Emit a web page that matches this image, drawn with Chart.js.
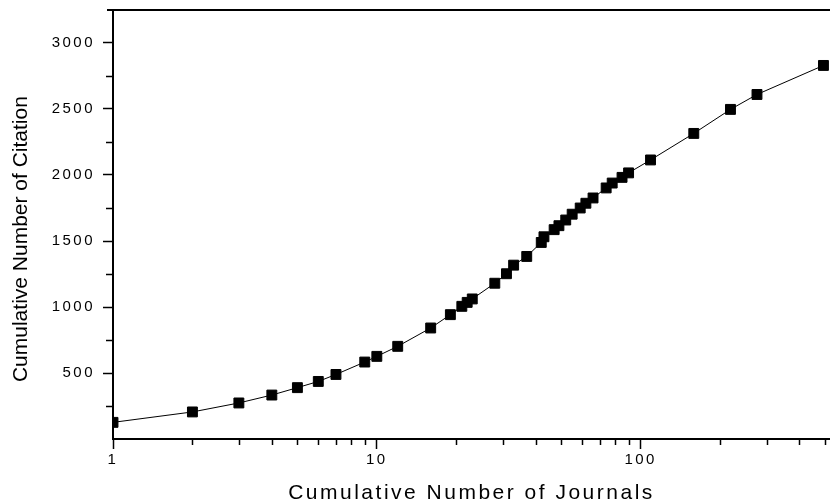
<!DOCTYPE html>
<html>
<head>
<meta charset="utf-8">
<title>Cumulative citations vs journals</title>
<script src="https://cdn.jsdelivr.net/npm/chart.js@4.4.1/dist/chart.umd.min.js"></script>
<style>
  html, body { margin: 0; padding: 0; background: #fff; }
  #wrap { width: 830px; height: 504px; }
</style>
</head>
<body>
<div id="wrap"><canvas id="chart"></canvas></div>
<script>
// values
const journals = [1, 2, 3, 4, 5, 6, 7, 9, 10, 12, 16, 19, 21, 22, 23, 28, 31, 33, 37, 42, 43, 47, 49, 52, 55, 59, 62, 66, 74, 78, 85, 90, 109, 159, 219, 276, 493];
const citations = [126, 205, 273, 333, 389, 436, 489, 583, 626, 702, 841, 942, 1005, 1035, 1061, 1180, 1252, 1317, 1383, 1489, 1532, 1586, 1616, 1659, 1703, 1750, 1786, 1826, 1902, 1939, 1982, 2016, 2114, 2315, 2497, 2610, 2830];

const xLabelTicks = [1, 10, 100];
const xMinorTicks = [2, 3, 4, 5, 6, 7, 8, 9, 20, 30, 40, 50, 60, 70, 80, 90, 200, 300, 400, 500];
const yLabelTicks = [500, 1000, 1500, 2000, 2500, 3000];
const yMinorTicks = [250, 750, 1250, 1750, 2250, 2750];

const FONT = "'Liberation Sans', Arial, Helvetica, sans-serif";

// short unlabeled ticks + the top frame line
const axisExtras = {
  id: 'axisExtras',
  afterDraw(chart) {
    const { ctx, chartArea, scales } = chart;
    ctx.save();
    ctx.strokeStyle = '#000';
    ctx.lineWidth = 1.5;
    ctx.beginPath();
    xMinorTicks.forEach(v => {
      const px = Math.round(scales.x.getPixelForValue(v)) + 0.5;
      ctx.moveTo(px, chartArea.bottom);
      ctx.lineTo(px, chartArea.bottom + 6);
    });
    yMinorTicks.forEach(v => {
      const py = Math.round(scales.y.getPixelForValue(v)) + 0.5;
      ctx.moveTo(chartArea.left, py);
      ctx.lineTo(chartArea.left - 7, py);
    });
    ctx.stroke();
    ctx.lineWidth = 2;
    ctx.beginPath();
    ctx.moveTo(chartArea.left - 6, chartArea.top);
    ctx.lineTo(chartArea.right, chartArea.top);
    ctx.stroke();
    ctx.restore();
  }
};

// the reference uses widely spaced tick labels and x title
const spacedText = {
  id: 'spacedText',
  beforeDraw(chart) {
    Object.values(chart.scales).forEach(scale => {
      if (scale._spaced) return;
      const drawLabels = scale.drawLabels;
      const drawTitle = scale.drawTitle;
      scale.drawLabels = function (area) {
        this.ctx.letterSpacing = '2.5px';
        drawLabels.call(this, area);
        this.ctx.letterSpacing = '0px';
      };
      scale.drawTitle = function (area) {
        this.ctx.letterSpacing = this.axis === 'x' ? '2.5px' : '0px';
        drawTitle.call(this, area);
        this.ctx.letterSpacing = '0px';
      };
      scale._spaced = true;
    });
  }
};

new Chart(document.getElementById('chart'), {
  type: 'line',
  data: {
    datasets: [{
      data: journals.map((j, i) => ({ x: j, y: citations[i] })),
      borderColor: '#000',
      borderWidth: 1,
      backgroundColor: '#000',
      pointStyle: 'rect',
      pointRadius: 7,
      pointBorderWidth: 1,
      pointBorderColor: '#000',
      pointBackgroundColor: '#000',
      tension: 0,
      clip: 0
    }]
  },
  options: {
    responsive: true,
    maintainAspectRatio: false,
    animation: false,
    layout: { autoPadding: false, padding: { top: 10, right: 0, bottom: 0, left: 0 } },
    plugins: {
      legend: { display: false },
      tooltip: { enabled: false }
    },
    scales: {
      x: {
        type: 'logarithmic',
        min: 1,
        max: 522,
        afterBuildTicks: s => { s.ticks = xLabelTicks.map(v => ({ value: v })); },
        afterFit: s => { s.height = 65; s.paddingLeft = 0; s.paddingRight = 0; },
        border: { display: true, color: '#000', width: 2 },
        grid: { drawOnChartArea: false, drawTicks: true, tickLength: 10, tickWidth: 1.5, tickColor: '#000' },
        ticks: {
          autoSkip: false,
          maxRotation: 0,
          padding: 2,
          color: '#000',
          font: { family: FONT, size: 15 },
          callback: v => String(v)
        },
        title: {
          display: true,
          text: 'Cumulative Number of Journals',
          color: '#000',
          font: { family: FONT, size: 21, lineHeight: 1.0 },
          padding: { top: 0, bottom: 0 }
        }
      },
      y: {
        type: 'linear',
        min: 0,
        max: 3250,
        afterBuildTicks: s => { s.ticks = yLabelTicks.map(v => ({ value: v })); },
        afterFit: s => { s.width = 113; s.paddingTop = 0; s.paddingBottom = 0; },
        border: { display: true, color: '#000', width: 2 },
        grid: { drawOnChartArea: false, drawTicks: true, tickLength: 10, tickWidth: 1.5, tickColor: '#000' },
        ticks: {
          padding: 8,
          color: '#000',
          font: { family: FONT, size: 15 },
          callback: v => String(v)
        },
        title: {
          display: true,
          text: 'Cumulative Number of Citation     ',
          color: '#000',
          font: { family: FONT, size: 21, lineHeight: 1.2 },
          padding: { top: 9, bottom: 0 }
        }
      }
    }
  },
  plugins: [axisExtras, spacedText]
});
</script>
</body>
</html>
